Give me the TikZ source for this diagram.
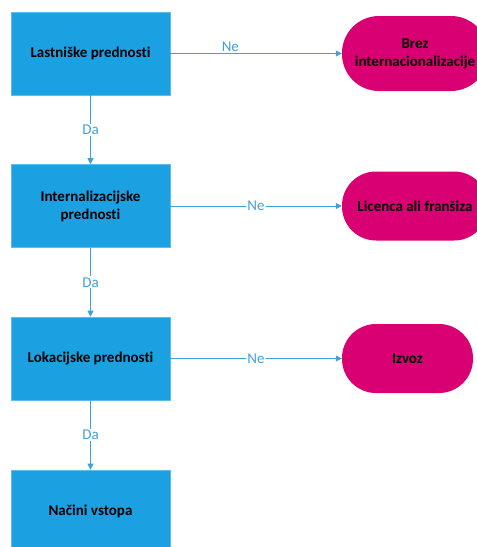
\documentclass[tikz,border=0pt]{standalone}
\usepackage{fontspec}
\setmainfont{Carlito}[Ligatures={NoCommon}]
\usetikzlibrary{arrows.meta}
\definecolor{boxblue}{HTML}{1BA1E2}
\definecolor{lineblue}{HTML}{3DA3DA}
\definecolor{pink}{HTML}{D80073}
\begin{document}
\begin{tikzpicture}[x=1pt,y=-1pt,
  decbox/.style={fill=boxblue,draw=boxblue!70!white,line width=0.6pt,minimum width=159pt,minimum height=83pt,inner sep=0pt,font=\fontsize{15}{18}\selectfont\bfseries,align=center,text=black},
  endbox/.style={fill=pink,draw=none,rounded corners=34pt,inner sep=0pt,font=\fontsize{15}{18}\selectfont\bfseries,align=center,text=black},
  conn/.style={draw=lineblue,line width=0.8pt,-{Triangle[length=6pt,width=6pt]}},
  lab/.style={fill=white,text=lineblue,font=\fontsize{15}{18}\selectfont,inner sep=1pt}]
\useasboundingbox (0,0) rectangle (477,547);
\clip (0,0) rectangle (477,547);
\node[decbox] (b1) at (90.5,53.5) {Lastniške prednosti};
\node[decbox] (b2) at (90.5,206) {Internalizacijske\\prednosti};
\node[decbox] (b3) at (90.5,358.5) {Lokacijske prednosti};
\node[decbox] (b4) at (90.5,511.5) {Načini vstopa};
\node[endbox,minimum width=146pt,minimum height=75pt,rounded corners=37pt] (e1) at (415,53.5) {Brez\\internacionalizacije};
\node[endbox,minimum width=146pt,minimum height=69pt] (e2) at (415,206) {Licenca ali franšiza};
\node[endbox,minimum width=131pt,minimum height=69pt] (e3) at (407.5,358.5) {Izvoz};
\draw[conn] (b1) -- node[lab,pos=0.5] {Da} (b2);
\draw[conn] (b2) -- node[lab,pos=0.5] {Da} (b3);
\draw[conn] (b3) -- node[lab,pos=0.5] {Da} (b4);
\draw[conn] (b1.east) -- node[lab,pos=0.35,yshift=7pt] {Ne} (e1.west);
\draw[conn] (b2.east) -- node[lab,pos=0.5] {Ne} (e2.west);
\draw[conn] (b3.east) -- node[lab,pos=0.5] {Ne} (e3.west);
\end{tikzpicture}
\end{document}
